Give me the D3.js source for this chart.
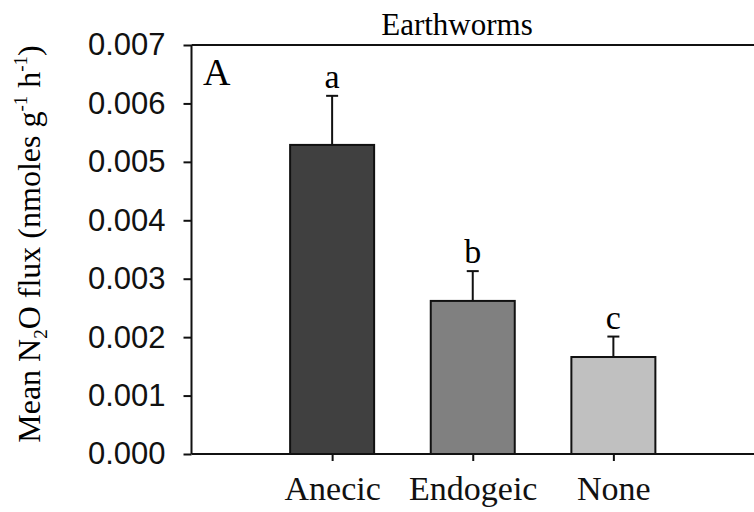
<!DOCTYPE html>
<html><head><meta charset="utf-8">
<script src="https://cdn.jsdelivr.net/npm/d3@7"></script>
<style>body{margin:0;background:#fff}</style>
</head><body>
<svg id="c" width="754" height="512"></svg>
<script>
const categories = ["Anecic", "Endogeic", "None"];
const means = [0.00529, 0.00262, 0.00166];
const errors = [0.00084, 0.00051, 0.00035];
const letters = ["a", "b", "c"];
const colors = ["#404040", "#808080", "#c0c0c0"];
const yTicks = [0, 0.001, 0.002, 0.003, 0.004, 0.005, 0.006, 0.007];

const svg = d3.select("#c");
const mL = 191.5, mR = 754, mT = 45, mB = 454;
const y = d3.scaleLinear().domain([0, 0.007]).range([mB, mT]);
const x = d3.scalePoint().domain(categories).range([mL, mR]).padding(1);
const bw = 84;
const serif = "'Liberation Serif','Times New Roman',serif";
const sans = "'Liberation Sans',Arial,sans-serif";

// bars
svg.selectAll("rect.bar").data(categories).enter().append("rect")
  .attr("x", d => x(d) - bw/2).attr("width", bw)
  .attr("y", (d,i) => y(means[i])).attr("height", (d,i) => y(0) - y(means[i]))
  .attr("fill", (d,i) => colors[i]).attr("stroke", "#111").attr("stroke-width", 2);

// error bars
const eg = svg.append("g").attr("stroke", "#111").attr("stroke-width", 2);
categories.forEach((c,i) => {
  eg.append("line").attr("x1", x(c)).attr("x2", x(c)).attr("y1", y(means[i])).attr("y2", y(means[i]+errors[i]));
  eg.append("line").attr("x1", x(c)-6).attr("x2", x(c)+6).attr("y1", y(means[i]+errors[i])).attr("y2", y(means[i]+errors[i]));
});
// significance letters
svg.selectAll("text.let").data(categories).enter().append("text")
  .attr("x", d => x(d)).attr("y", (d,i) => y(means[i]+errors[i]) - 8)
  .attr("text-anchor", "middle").attr("font-family", serif).attr("font-size", 34)
  .text((d,i) => letters[i]);

// y axis
const ya = svg.append("g").attr("transform", `translate(${mL},0)`)
  .call(d3.axisLeft(y).tickValues(yTicks).tickFormat(d3.format(".3f")).tickSize(8).tickPadding(18));
ya.selectAll("text").attr("font-family", sans).attr("font-size", 31).attr("fill", "#111");
ya.selectAll("line,path").attr("stroke", "#111").attr("stroke-width", 2);
ya.select("path.domain").attr("d", `M0,${mT}V${mB}`);

// x axis
const xa = svg.append("g").attr("transform", `translate(0,${mB})`)
  .call(d3.axisBottom(x).tickSize(7).tickSizeOuter(0).tickPadding(15));
xa.selectAll("text").attr("font-family", serif).attr("font-size", 34).attr("fill", "#111");
xa.selectAll("line,path").attr("stroke", "#111").attr("stroke-width", 2);
xa.select("path.domain").attr("d", `M${mL},0H${mR}`);

// top frame line
svg.append("line").attr("x1", mL).attr("x2", mR).attr("y1", y(0.007)).attr("y2", y(0.007))
  .attr("stroke", "#111").attr("stroke-width", 2);

// title
svg.append("text").attr("x", 457).attr("y", 35).attr("text-anchor", "middle")
  .attr("font-family", serif).attr("font-size", 31).text("Earthworms");
// panel letter
svg.append("text").attr("x", 203).attr("y", 85).attr("font-family", serif).attr("font-size", 38).text("A");

// y label
const yl = svg.append("text").attr("transform", "translate(40,244) rotate(-90)")
  .attr("text-anchor", "middle").attr("font-family", serif).attr("font-size", 32);
yl.append("tspan").text("Mean N");
yl.append("tspan").attr("font-size", 19).attr("dy", 7).text("2");
yl.append("tspan").attr("dy", -7).text("O flux (nmoles g");
yl.append("tspan").attr("font-size", 19).attr("dy", -13).text("-1");
yl.append("tspan").attr("dy", 13).text(" h");
yl.append("tspan").attr("font-size", 19).attr("dy", -13).text("-1");
yl.append("tspan").attr("dy", 13).text(")");
</script>
</body></html>
